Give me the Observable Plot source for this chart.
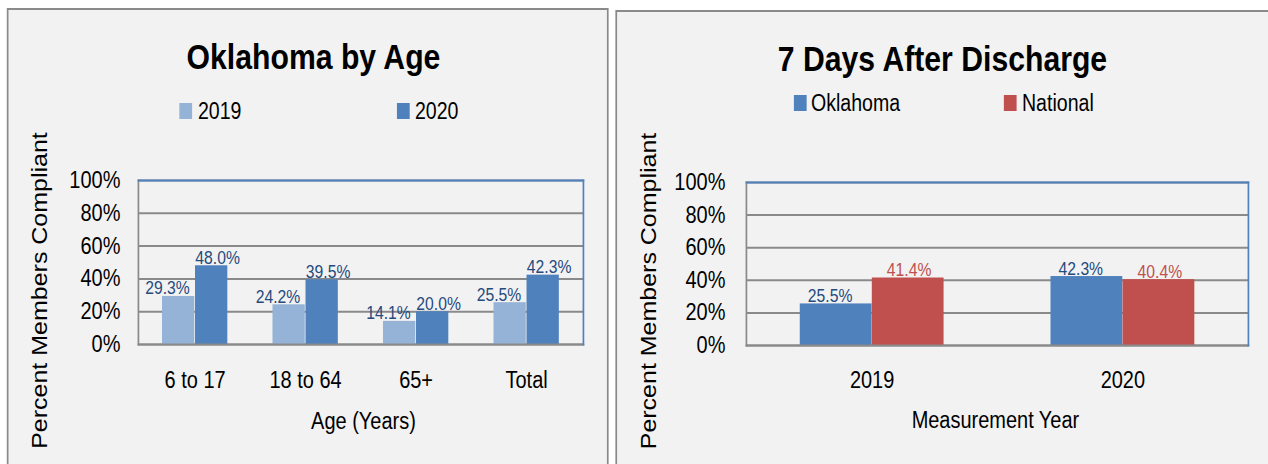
<!DOCTYPE html>
<html>
<head>
<meta charset="utf-8">
<script src="https://cdn.jsdelivr.net/npm/d3@7"></script>
<script src="https://cdn.jsdelivr.net/npm/@observablehq/plot@0.6"></script>
<style>
  html, body { margin: 0; padding: 0; background: #ffffff; width: 1268px; height: 464px; overflow: hidden; }
  #stage { position: absolute; left: 0; top: 0; height: 464px; transform-origin: 0 0; font-family: "Liberation Sans", Arial, sans-serif; }
  .panel { position: absolute; box-sizing: border-box; background: #f2f2f2; border: 2px solid #8a8a8a; }
  .abs { position: absolute; }
  .title { position: absolute; font-weight: bold; white-space: nowrap; transform: translateX(-50%); color: #000; }
  .leg { position: absolute; white-space: nowrap; color: #000; }
  .sw { position: absolute; }
</style>
</head>
<body>
<div id="stage"></div>
<script>
// ---- data ----
const ageCategories = ["6 to 17", "18 to 64", "65+", "Total"];
const age2019 = [29.3, 24.2, 14.1, 25.5];
const age2020 = [48.0, 39.5, 20.0, 42.3];

const years = ["2019", "2020"];
const oklahoma = [25.5, 42.3];
const national = [41.4, 40.4];

const yTicks = [0, 20, 40, 60, 80, 100];
const yAxisTitle = "Percent Members Compliant";
const leftTitle = "Oklahoma by Age";
const rightTitle = "7 Days After Discharge";
const leftXTitle = "Age (Years)";
const rightXTitle = "Measurement Year";
const leftSeries = ["2019", "2020"];
const rightSeries = ["Oklahoma", "National"];

// ---- layout (the reference is horizontally condensed; reproduce with scaleX) ----
const S = 0.85;
const sx = v => v / S;
const FONT = '"Liberation Sans", Arial, sans-serif';
const GRID = "#8a8a8a";
const BLUE_EDGE = "#4f81bd";
const C_LIGHT = "#95b3d7", C_BLUE = "#4f81bd", C_RED = "#c0504d", C_LABEL = "#254a7e";

const stage = document.getElementById("stage");
stage.style.width = sx(1268) + "px";
stage.style.transform = `scaleX(${S})`;

function el(cls, css, text) {
  const d = document.createElement("div");
  d.className = cls;
  Object.assign(d.style, css);
  if (text != null) d.textContent = text;
  stage.appendChild(d);
  return d;
}

// panels
el("panel", {left: sx(7) + "px", top: "8px", width: sx(602) + "px", height: "470px"});
el("panel", {left: sx(615) + "px", top: "10px", width: sx(700) + "px", height: "470px"});

function chart(o) {
  const rows1 = o.cats.map((c, i) => ({cat: c, value: o.s1[i]}));
  const rows2 = o.cats.map((c, i) => ({cat: c, value: o.s2[i]}));
  const band = (o.width - o.ml - o.mr) / o.cats.length;
  const bw = band * o.barFrac;
  const outer = (band - 2 * bw) / 2;
  const fmt = d => d.value.toFixed(1) + "%";
  return Plot.plot({
    width: o.width,
    height: o.height,
    marginLeft: o.ml,
    marginRight: o.mr,
    marginTop: o.mt,
    marginBottom: o.mb,
    style: {background: "transparent", fontFamily: FONT, fontSize: "23.5px", color: "#000", overflow: "visible"},
    x: {domain: o.cats, padding: 0, label: null, tickSize: 0, tickPadding: o.xTickPad},
    y: {domain: [0, 100], ticks: yTicks, label: null, tickSize: 0, tickPadding: o.yTickPad, tickFormat: d => d + "%"},
    marks: [
      Plot.ruleY(yTicks, {stroke: GRID, strokeWidth: 2}),
      Plot.barY(rows1, {x: "cat", y: "value", fill: o.c1, insetLeft: outer, insetRight: outer + bw}),
      Plot.barY(rows2, {x: "cat", y: "value", fill: o.c2, insetLeft: outer + bw, insetRight: outer}),
      Plot.frame({anchor: "left", stroke: GRID, strokeWidth: 2}),
      Plot.frame({anchor: "bottom", stroke: GRID, strokeWidth: 2}),
      Plot.frame({anchor: "top", stroke: BLUE_EDGE, strokeWidth: 2}),
      Plot.frame({anchor: "right", stroke: BLUE_EDGE, strokeWidth: 2}),
      Plot.text(rows1, {x: "cat", y: "value", text: fmt, dx: -bw / 2 + sx(o.shift1), dy: -2, lineAnchor: "bottom", fill: o.lc1, fontSize: 18.5}),
      Plot.text(rows2, {x: "cat", y: "value", text: fmt, dx: bw / 2 + sx(o.shift2), dy: -2, lineAnchor: "bottom", fill: o.lc2, fontSize: 18.5}),
      Plot.text([o.xTitle], {text: d => d, frameAnchor: "bottom", lineAnchor: "bottom", dx: sx(o.xTitleDx), dy: o.xTitleDy, fontSize: 23.5, fill: "#000"}),
      Plot.text([yAxisTitle], {text: d => d, frameAnchor: "left", textAnchor: "middle", lineAnchor: "middle", rotate: -90, dx: sx(o.yTitleX), dy: o.yTitleDy, fontSize: 25, fill: "#000"})
    ]
  });
}

const leftBox = el("abs", {left: "0px", top: "0px"});
leftBox.appendChild(chart({
  cats: ageCategories, s1: age2019, s2: age2020,
  c1: C_LIGHT, c2: C_BLUE, lc1: C_LABEL, lc2: C_LABEL,
  width: sx(612), height: 464, ml: sx(138), mr: sx(29), mt: 180, mb: 120,
  yTickPad: sx(18), xTickPad: 27, barFrac: 0.297,
  shift1: -11, shift2: 6,
  xTitle: leftXTitle, xTitleDx: 2.5, xTitleDy: 84,
  yTitleX: 40 - 138, yTitleDy: 28
}));

const rightBox = el("abs", {left: sx(612) + "px", top: "0px"});
rightBox.appendChild(chart({
  cats: years, s1: oklahoma, s2: national,
  c1: C_BLUE, c2: C_RED, lc1: C_LABEL, lc2: C_RED,
  width: sx(656), height: 464, ml: sx(134), mr: sx(20), mt: 182, mb: 119,
  yTickPad: sx(21), xTickPad: 26, barFrac: 0.287,
  shift1: -6, shift2: 1,
  xTitle: rightXTitle, xTitleDx: -2, xTitleDy: 83,
  yTitleX: 649 - 746, yTitleDy: 27
}));

// titles (baseline ≈ top + 0.8465em with line-height 1)
el("title", {left: sx(313.5) + "px", top: "39.5px", fontSize: "35.5px", lineHeight: "35.5px"}, leftTitle);
el("title", {left: sx(942.5) + "px", top: "42px", fontSize: "35.5px", lineHeight: "35.5px"}, rightTitle);

// legends
function legend(swX, swY, textX, textTop, color, label) {
  el("sw", {left: sx(swX) + "px", top: swY + "px", width: sx(13) + "px", height: "16px", background: color});
  el("leg", {left: sx(textX) + "px", top: textTop + "px", fontSize: "23px", lineHeight: "23px"}, label);
}
legend(179, 103, 198, 99.5, C_LIGHT, leftSeries[0]);
legend(397, 103, 415, 99.5, C_BLUE, leftSeries[1]);
legend(794, 95, 811, 91.5, C_BLUE, rightSeries[0]);
legend(1004, 95, 1022, 91.5, C_RED, rightSeries[1]);
</script>
</body>
</html>
